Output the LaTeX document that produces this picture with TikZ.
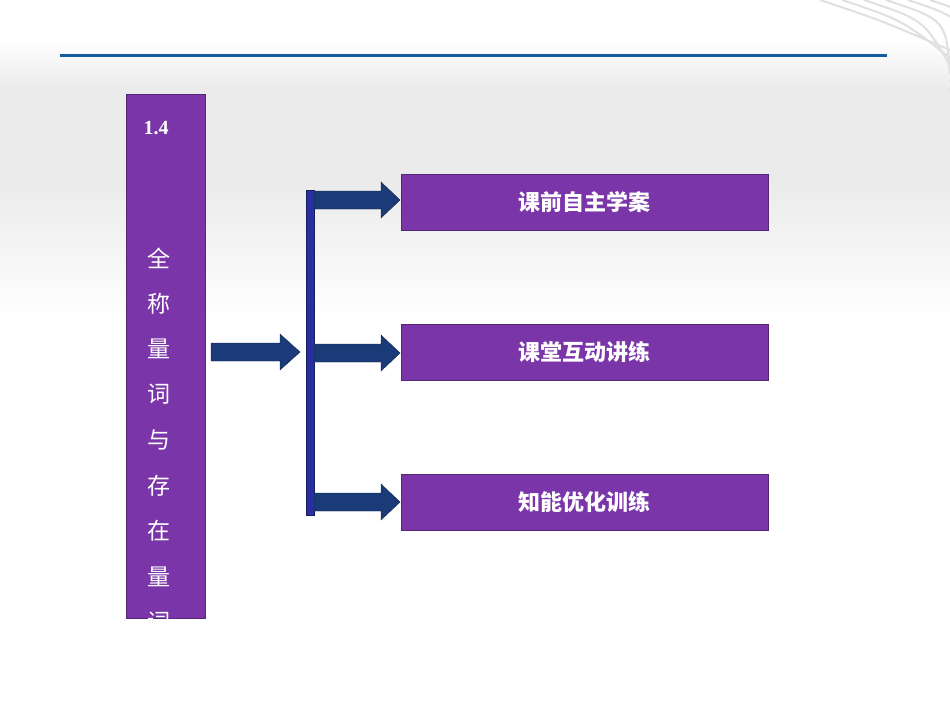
\documentclass[tikz,border=0pt]{standalone}
\usepackage{fontspec}
\newfontfamily\cjk{Noto Sans CJK SC}
\newfontfamily\cjkb{Noto Sans CJK SC}[BoldFont={Noto Sans CJK SC Bold}]
\setmainfont{Liberation Serif}
\definecolor{pur}{HTML}{7A35A8}
\definecolor{navy}{HTML}{1A3A78}
\definecolor{barblue}{HTML}{2A2FA0}
\tikzset{
 pbox/.style={draw=pur!70!black, fill=pur, minimum width=367pt, minimum height=56pt, text=white, font=\cjk\bfseries\fontsize{22}{26}\selectfont},
 fat/.style={fill=navy, draw=navy!60!black}
}
\begin{document}
\begin{tikzpicture}[x=1pt,y=-1pt]
\useasboundingbox (0,0) rectangle (950,713);
\fill[white] (0,0) rectangle (950,713);
\shade[top color=white, bottom color=black!8] (0,40) rectangle (950,90);
\fill[black!8] (0,90) rectangle (950,180);
\shade[top color=black!8, bottom color=white] (0,180) rectangle (950,320);
\draw[line width=3pt, color={rgb,255:red,20;green,90;blue,160}] (60,55) -- (887,55);
\foreach \i in {0,...,5}{\draw[black!12, line width=2pt] (820+\i*22,0) .. controls (880+\i*22,20) .. (950,50+\i*8);}
% left box
\node[draw=pur!70!black, fill=pur, minimum width=79pt, minimum height=524pt, anchor=north west, inner sep=0] (L) at (126,94) {};
\node[text=white, font=\bfseries\fontsize{20}{24}\selectfont] (num) at (156,128) {1.4};
\begin{scope}
\clip (126,94) rectangle (205,618);
\foreach \c [count=\k from 0] in {全,称,量,词,与,存,在,量,词}{
 \node[text=white, font=\cjk\fontsize{23}{26}\selectfont] (c\k) at (159,258+\k*45.5) {\c};}
\end{scope}
% bar
\node[fill=barblue, draw=barblue!60!black, minimum width=8pt, minimum height=325pt, inner sep=0, anchor=north west] (bar) at (306,190) {};
% right boxes
\node[pbox] (b1) at (584.5,202) {课前自主学案};
\node[pbox] (b2) at (584.5,352) {课堂互动讲练};
\node[pbox] (b3) at (584.5,502) {知能优化训练};
% main arrow
\fill[fat] (211,343) -- (280,343) -- (280,334) -- (300,352) -- (280,370) -- (280,361) -- (211,361) -- cycle;
\foreach \y/\n in {200/b1,353/b2,502/b3}{
 \fill[fat] (314,\y-9) -- (381,\y-9) -- (381,\y-18) -- (400,\y) -- (381,\y+18) -- (381,\y+9) -- (314,\y+9) -- cycle;}
\end{tikzpicture}
\end{document}
